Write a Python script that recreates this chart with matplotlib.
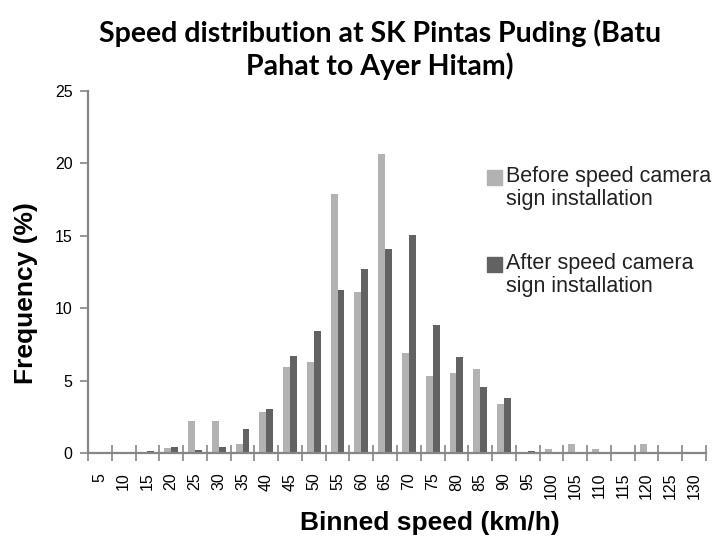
import numpy as np
import matplotlib.pyplot as plt
from matplotlib.patches import Rectangle

speeds = list(range(5, 135, 5))
before = [0, 0.05, 0, 0.35, 2.2, 2.2, 0.62, 2.83, 5.94, 6.33, 17.9, 11.13, 20.63, 6.9,
          5.36, 5.52, 5.8, 3.38, 0, 0.28, 0.67, 0.28, 0, 0.67, 0, 0]
after = [0, 0, 0.16, 0.44, 0.2, 0.46, 1.7, 3.08, 6.72, 8.47, 11.27, 12.74, 14.08, 15.07,
         8.88, 6.67, 4.6, 3.84, 0.18, 0.09, 0.05, 0.05, 0, 0, 0, 0]
series_names = ['Before speed camera\nsign installation', 'After speed camera\nsign installation']

c_before = '#b2b2b2'
c_after = '#626262'
axis_c = '#868686'
plt.rcParams['font.family'] = ['Liberation Sans', 'DejaVu Sans']

W, H = 722, 540
fig = plt.figure(figsize=(W / 100, H / 100), dpi=100)
ax = fig.add_axes([88 / W, 1 - 453.3 / H, (706 - 88) / W, (453.3 - 91) / H])

x = np.arange(len(speeds))
w = 0.29
ax.bar(x - w/2, before, width=w, color=c_before)
ax.bar(x + w/2, after, width=w, color=c_after)

ax.set_xlim(-0.5, len(speeds) - 0.5)
ax.set_ylim(0, 25)
ax.set_yticks(range(0, 30, 5))
ax.set_xticks(x)
ax.set_xticklabels([str(s) for s in speeds], rotation=90, fontsize=11.5)
ax.set_xticks(np.arange(-0.5, len(speeds)), minor=True)
ax.tick_params(axis='x', which='major', length=0, pad=14)
ax.tick_params(axis='x', which='minor', length=12, width=1.2, direction='inout', color=axis_c)
ax.tick_params(axis='y', length=6, width=1.2, color=axis_c, labelsize=11.5, pad=5)

for s in ['top', 'right']:
    ax.spines[s].set_visible(False)
for s in ['left', 'bottom']:
    ax.spines[s].set_color(axis_c)
    ax.spines[s].set_linewidth(1.6)

# legend, Excel style: square aligned with the first text line
for i, (name, col) in enumerate(zip(series_names, [c_before, c_after])):
    y0 = 177 + i * 87
    fig.add_artist(Rectangle((487 / W, 1 - (y0 + 7.5) / H), 15 / W, 15 / H,
                             transform=fig.transFigure, color=col))
    fig.text(506 / W, 1 - (y0 - 11) / H, name, ha='left', va='top',
             fontsize=15.5, color='#222222', linespacing=1.15)

fig.text(380 / W, 1 - 50 / H, 'Speed distribution at SK Pintas Puding (Batu\nPahat to Ayer Hitam)',
         ha='center', va='center', fontsize=20.5, fontweight='bold', family='Lato',
         linespacing=1.25)
fig.text(26 / W, 1 - 293 / H, 'Frequency (%)', rotation=90, ha='center', va='center',
         fontsize=19, fontweight='bold')
fig.text(430 / W, 1 - 523 / H, 'Binned speed (km/h)', ha='center', va='center',
         fontsize=19, fontweight='bold')

plt.savefig('out.png', dpi=100)
